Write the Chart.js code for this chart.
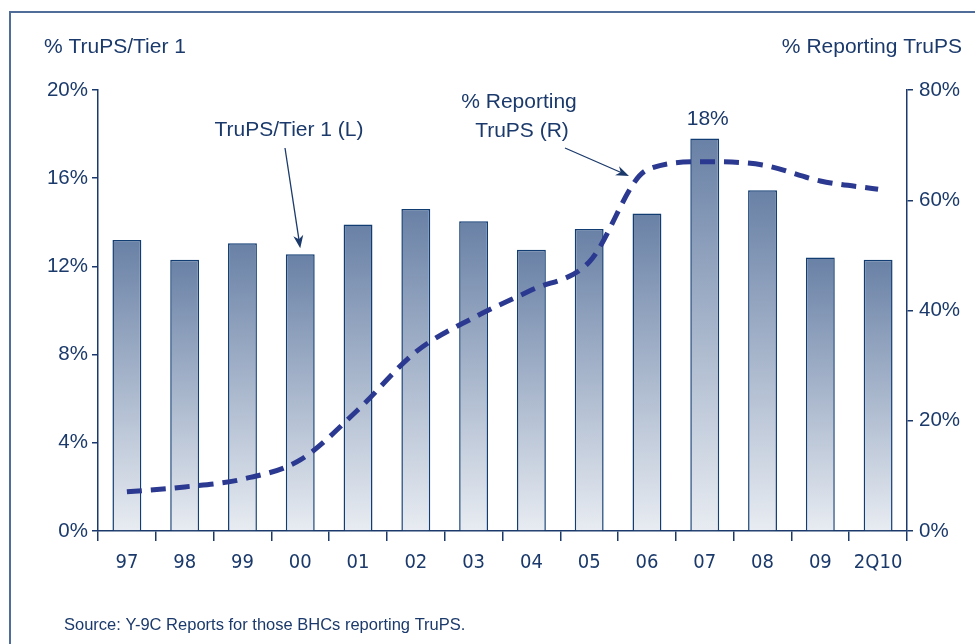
<!DOCTYPE html>
<html>
<head>
<meta charset="utf-8">
<script src="https://cdn.jsdelivr.net/npm/chart.js@4"></script>
<style>
  html, body { margin: 0; padding: 0; background: #fff; }
  #wrap { width: 975px; height: 644px; position: relative; }
</style>
</head>
<body>
<div id="wrap"><canvas id="chart" width="975" height="644"></canvas></div>
<script>
const categories = ['97', '98', '99', '00', '01', '02', '03', '04', '05', '06', '07', '08', '09', '2Q10'];
const trupsTier1 = [13.2, 12.3, 13.05, 12.55, 13.9, 14.6, 14.05, 12.75, 13.7, 14.4, 17.8, 15.45, 12.4, 12.3];
const pctReporting = [7.1, 8.0, 9.4, 12.9, 22.0, 32.5, 38.7, 43.7, 48.8, 65.5, 67.0, 66.4, 63.5, 62.0];
const leftTicks = [0, 4, 8, 12, 16, 20];
const rightTicks = [0, 20, 40, 60, 80];

const navy = '#1b3a6b';
const font = "'Liberation Sans', Arial, sans-serif";
const narrow = "'DejaVu Sans Condensed', 'Liberation Sans Narrow', 'Liberation Sans', sans-serif";

function barFill(ctx) {
  const chart = ctx.chart;
  const y = chart.scales.y;
  if (!chart.chartArea || !y || ctx.dataIndex === undefined) return '#8096b5';
  const top = y.getPixelForValue(trupsTier1[ctx.dataIndex]);
  const bottom = y.getPixelForValue(0);
  if (!isFinite(top) || !isFinite(bottom) || top === bottom) return '#8096b5';
  const g = chart.ctx.createLinearGradient(0, top, 0, bottom);
  g.addColorStop(0, '#6981a6');
  g.addColorStop(1, '#e8ecf2');
  return g;
}

function arrow(c, x1, y1, x2, y2) {
  const a = Math.atan2(y2 - y1, x2 - x1);
  c.beginPath();
  c.moveTo(x1, y1);
  c.lineTo(x2 - 8 * Math.cos(a), y2 - 8 * Math.sin(a));
  c.stroke();
  c.beginPath();
  c.moveTo(x2, y2);
  c.lineTo(x2 - 13 * Math.cos(a) + 5 * Math.sin(a), y2 - 13 * Math.sin(a) - 5 * Math.cos(a));
  c.lineTo(x2 - 9 * Math.cos(a), y2 - 9 * Math.sin(a));
  c.lineTo(x2 - 13 * Math.cos(a) - 5 * Math.sin(a), y2 - 13 * Math.sin(a) + 5 * Math.cos(a));
  c.closePath();
  c.fill();
}

const decor = {
  id: 'decor',
  afterDraw(chart) {
    const c = chart.ctx;
    const x = chart.scales.x, y = chart.scales.y, y1 = chart.scales.y1;
    c.save();
    // frame
    c.strokeStyle = '#4f6d98';
    c.lineWidth = 2;
    c.strokeRect(10, 12, 1000, 1000);

    c.fillStyle = navy;
    c.strokeStyle = navy;
    c.textBaseline = 'middle';
    c.font = '21px ' + font;
    c.textAlign = 'left';
    c.fillText('% TruPS/Tier 1', 44, 47);
    c.textAlign = 'right';
    c.fillText('% Reporting TruPS', 962, 47);

    c.textAlign = 'center';
    c.fillText('TruPS/Tier 1 (L)', 289, 130);
    c.fillText('% Reporting', 519, 102);
    c.fillText('TruPS (R)', 522, 131);

    // 18% label above 07
    const i07 = categories.indexOf('07');
    c.fillText('18%', x.getPixelForValue(i07) + 3, y.getPixelForValue(trupsTier1[i07]) - 19);

    // arrows
    c.lineWidth = 1.3;
    const i00 = categories.indexOf('00');
    arrow(c, 285, 148, x.getPixelForValue(i00), y.getPixelForValue(trupsTier1[i00]) - 6);
    const i06 = categories.indexOf('06');
    arrow(c, 565, 148, x.getPixelForValue(i06) - 18, y1.getPixelForValue(pctReporting[i06]) + 6);

    c.textAlign = 'left';
    c.font = '16.5px ' + font;
    c.fillText('Source: Y-9C Reports for those BHCs reporting TruPS.', 64, 625);
    c.restore();
  }
};

new Chart(document.getElementById('chart').getContext('2d'), {
  type: 'bar',
  data: {
    labels: categories,
    datasets: [
      {
        type: 'line',
        label: '% Reporting TruPS (R)',
        data: pctReporting,
        yAxisID: 'y1',
        borderColor: '#2b3990',
        borderWidth: 5,
        borderDash: [15, 9],
        pointRadius: 0,
        tension: 0.4,
        cubicInterpolationMode: 'monotone',
        order: 0
      },
      {
        label: 'TruPS/Tier 1 (L)',
        data: trupsTier1,
        yAxisID: 'y',
        backgroundColor: barFill,
        borderColor: '#123d73',
        borderWidth: 1.5,
        barPercentage: 0.5,
        categoryPercentage: 1,
        order: 1
      }
    ]
  },
  options: {
    responsive: false,
    animation: false,
    layout: { padding: { top: 90, left: 0, right: 0, bottom: 0 } },
    plugins: { legend: { display: false }, tooltip: { enabled: false } },
    scales: {
      x: {
        grid: { offset: true, drawOnChartArea: false, color: navy, tickLength: 10, lineWidth: 1.5 },
        border: { color: navy, width: 1.5 },
        ticks: { color: navy, font: { family: narrow, size: 20 }, padding: 10, maxRotation: 0 },
        afterFit(s) { s.height = 113; }
      },
      y: {
        position: 'left',
        min: 0, max: 20,
        afterBuildTicks(s) { s.ticks = leftTicks.map(v => ({ value: v })); },
        grid: { drawOnChartArea: false, color: navy, tickLength: 6, lineWidth: 1.5 },
        border: { color: navy, width: 1.5 },
        ticks: { color: navy, font: { family: font, size: 20.5 }, padding: 4, callback: v => v + '%' },
        afterFit(s) { s.width = 98; }
      },
      y1: {
        position: 'right',
        min: 0, max: 80,
        afterBuildTicks(s) { s.ticks = rightTicks.map(v => ({ value: v })); },
        grid: { drawOnChartArea: false, color: navy, tickLength: 6, lineWidth: 1.5 },
        border: { color: navy, width: 1.5 },
        ticks: { color: navy, font: { family: font, size: 20.5 }, padding: 6, callback: v => v + '%' },
        afterFit(s) { s.width = 68; }
      }
    }
  },
  plugins: [decor]
});
</script>
</body>
</html>
